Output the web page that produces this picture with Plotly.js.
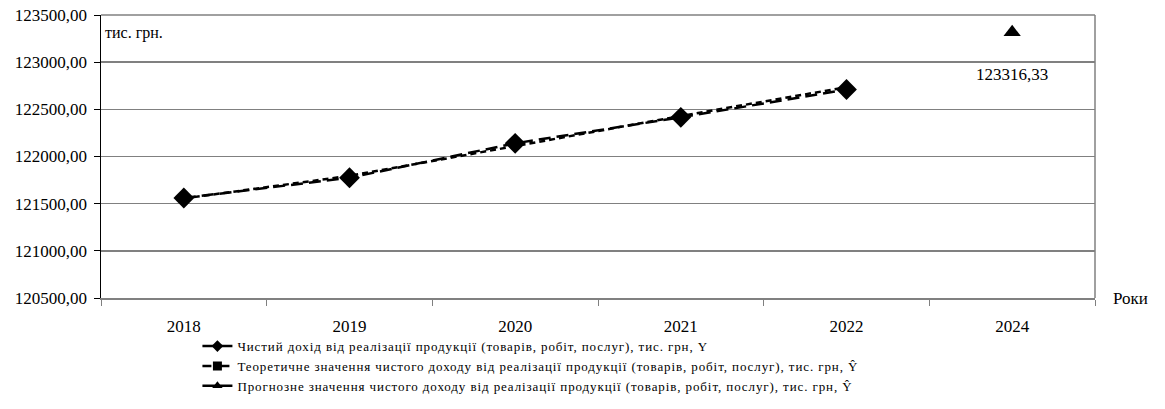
<!DOCTYPE html>
<html><head><meta charset="utf-8">
<script src="https://cdn.plot.ly/plotly-3.0.1.min.js"></script>
<style>body{margin:0;background:#fff}#c{width:1165px;height:409px}.legendtext{letter-spacing:0.9px}</style>
</head><body><div id="c"></div>
<script>
const categories = ['2018','2019','2020','2021','2022','2024'];
const actualYears = ['2018','2019','2020','2021','2022'];
const actualValues = [121560, 121775, 122140, 122415, 122710];
const theoryValues = [121555, 121795, 122110, 122430, 122735];
const forecastYears = ['2024'];
const forecastValues = [123316.33];
const names = [
 'Чистий дохід від реалізації продукції (товарів, робіт, послуг), тис. грн, Y',
 'Теоретичне значення чистого доходу від реалізації продукції (товарів, робіт, послуг), тис. грн, Ŷ',
 'Прогнозне значення чистого доходу від реалізації продукції (товарів, робіт, послуг), тис. грн, Ŷ'
];
const F = 'Times New Roman, Liberation Serif, serif';
const traces = [
 {x: actualYears, y: theoryValues, mode:'lines+markers', showlegend:false,
  line:{color:'#000', width:2.5, dash:'6px,4px'}, marker:{symbol:'square', size:7, color:'#000'}},
 {x: actualYears, y: actualValues, mode:'lines+markers', showlegend:false,
  line:{color:'#000', width:2.5, dash:'12px,6px'}, marker:{symbol:'diamond', size:16, color:'#000'}},
 {x: forecastYears, y: forecastValues, mode:'markers', showlegend:false,
  marker:{symbol:'triangle-up', size:15, color:'#000'}},
 {x:[null], y:[null], mode:'lines+markers', name:names[0], line:{color:'#000', width:2.5}, marker:{symbol:'diamond', size:9, color:'#000'}},
 {x:[null], y:[null], mode:'lines+markers', name:names[1], line:{color:'#000', width:2.5, dash:'dash'}, marker:{symbol:'square', size:9, color:'#000'}},
 {x:[null], y:[null], mode:'lines+markers', name:names[2], line:{color:'#000', width:2.5}, marker:{symbol:'triangle-up', size:9, color:'#000'}}
];
const layout = {
 width:1165, height:409,
 margin:{l:101, r:70, t:15, b:111, autoexpand:false},
 paper_bgcolor:'#fff', plot_bgcolor:'#fff',
 separators:', ',
 font:{family:F, color:'#000'},
 xaxis:{type:'category', categoryorder:'array', categoryarray:categories, range:[-0.5,5.5],
  tickson:'boundaries', ticks:'outside', ticklen:6, tickcolor:'#808080', ticklabelstandoff:12,
  showgrid:false, showline:true, linecolor:'#808080', linewidth:2,
  tickfont:{family:F, size:17, color:'#000'}, zeroline:false, automargin:false},
 yaxis:{range:[120500,123500], dtick:500, tickformat:'.2f',
  ticks:'outside', ticklen:6, tickcolor:'#000', ticklabelstandoff:3,
  showgrid:true, gridcolor:'#808080', gridwidth:1.5,
  showline:true, linecolor:'#000', linewidth:1.5,
  tickfont:{family:F, size:17, color:'#000'}, zeroline:false, automargin:false},
 showlegend:true,
 legend:{x:0.097, y:-0.117, xanchor:'left', yanchor:'top', orientation:'v',
  font:{family:F, size:13, color:'#000'}, itemwidth:30, tracegroupgap:0, bgcolor:'rgba(0,0,0,0)'},
 shapes:[
  {type:'line', xref:'paper', yref:'paper', x0:1, x1:1, y0:0, y1:1, line:{color:'#808080', width:1.5}},
  {type:'line', xref:'paper', yref:'paper', x0:0, x1:1, y0:1, y1:1, line:{color:'#808080', width:1.5}}
 ],
 annotations:[
  {x:categories.indexOf(forecastYears[0]), y:forecastValues[0], xref:'x', yref:'y', text:forecastValues[0].toFixed(2).replace('.',','),
   showarrow:false, yshift:-42, font:{family:F, size:17, color:'#000'}},
  {xref:'paper', yref:'paper', x:0.002, y:0.935, xanchor:'left', yanchor:'middle', text:'тис. грн.', showarrow:false,
   font:{family:F, size:16, color:'#000'}},
  {xref:'paper', yref:'paper', x:1.016, y:0.0, xanchor:'left', yanchor:'middle', text:'Роки', showarrow:false,
   font:{family:F, size:17, color:'#000'}}
 ]
};
Plotly.newPlot('c', traces, layout, {displayModeBar:false, staticPlot:true});
</script></body></html>
